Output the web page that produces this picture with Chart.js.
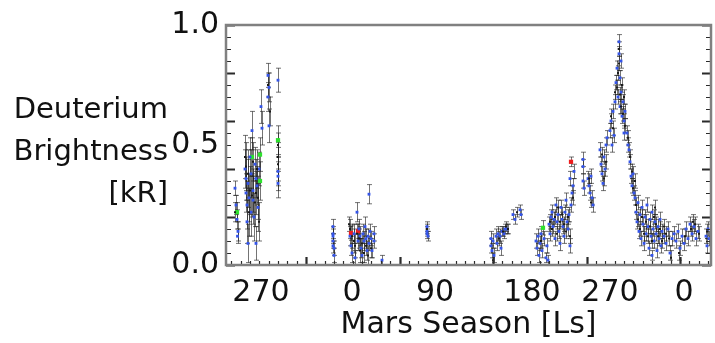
<!DOCTYPE html>
<html>
<head>
<meta charset="utf-8">
<script src="https://cdn.jsdelivr.net/npm/chart.js@4.4.1/dist/chart.umd.min.js"></script>
<style>
  html, body { margin: 0; padding: 0; background: #fff; }
  #wrap { width: 715px; height: 343px; }
</style>
</head>
<body>
<div id="wrap"><canvas id="chart" width="715" height="343"></canvas></div>
<script>
// x = days since start of the record, y = deuterium brightness (kR)
// each point: [day, kR, 1-sigma error]

// ------- axis ticks -------
const lsTickDays = [70, 252, 418, 612, 768, 916];
const lsTickText = ['270', '0', '90', '180', '270', '0'];
const xMajorDays = [160, 347, 534, 721, 908];
const yTickVals  = [0, 0.5, 1.0];

// ------- observations -------
const greenPts = [
  [22, 0.22, 0.04], [52, 0.45, 0.08], [68, 0.46, 0.07], [68, 0.35, 0.08], [104, 0.52, 0.06],
  [634, 0.155, 0.03],
];
const redPts = [
  [250, 0.133, 0.03], [264, 0.141, 0.03], [690, 0.43, 0.02],
];
const blackPts = [
  [18, 0.22, 0.04], [38, 0.45, 0.09], [40, 0.41, 0.1], [44, 0.38, 0.1], [46, 0.22, 0.1], [48, 0.31, 0.1],
  [52, 0.29, 0.09], [54, 0.43, 0.08], [58, 0.26, 0.1], [60, 0.30, 0.09], [62, 0.40, 0.08], [64, 0.28, 0.09],
  [66, 0.18, 0.08], [84, 0.75, 0.05], [88, 0.64, 0.06], [104, 0.50, 0.05], [104, 0.45, 0.06], [104, 0.42, 0.07],
  [246, 0.17, 0.03], [248, 0.15, 0.04], [252, 0.12, 0.05], [256, 0.10, 0.05], [258, 0.08, 0.05], [262, 0.13, 0.04],
  [266, 0.11, 0.04], [268, 0.06, 0.05], [272, 0.09, 0.04], [276, 0.05, 0.04], [280, 0.08, 0.04], [284, 0.04, 0.04],
  [290, 0.07, 0.04], [402, 0.15, 0.02],
  [534, 0.02, 0.03], [546, 0.11, 0.03], [554, 0.14, 0.02], [560, 0.16, 0.02], [564, 0.15, 0.02], [582, 0.22, 0.02],
  [630, 0.10, 0.03], [648, 0.18, 0.03], [652, 0.15, 0.03], [658, 0.20, 0.03], [662, 0.13, 0.03], [664, 0.24, 0.03],
  [668, 0.18, 0.03], [672, 0.21, 0.03], [676, 0.17, 0.03], [680, 0.14, 0.03], [684, 0.20, 0.03], [688, 0.12, 0.03],
  [694, 0.28, 0.03], [726, 0.36, 0.02], [730, 0.26, 0.02], [752, 0.46, 0.03], [756, 0.36, 0.03], [760, 0.43, 0.03],
  [770, 0.62, 0.03], [774, 0.57, 0.03], [778, 0.72, 0.03], [782, 0.74, 0.03], [784, 0.80, 0.03], [786, 0.90, 0.03],
  [788, 0.71, 0.03], [790, 0.66, 0.03], [792, 0.75, 0.03], [794, 0.63, 0.03], [796, 0.70, 0.03], [798, 0.58, 0.03],
  [786, 0.84, 0.03], [804, 0.53, 0.03], [808, 0.45, 0.03], [812, 0.39, 0.03], [814, 0.32, 0.03], [818, 0.35, 0.03],
  [820, 0.25, 0.03], [824, 0.19, 0.03], [828, 0.15, 0.03], [832, 0.20, 0.03], [836, 0.13, 0.03], [840, 0.18, 0.03],
  [844, 0.12, 0.03], [848, 0.16, 0.03], [852, 0.10, 0.03], [856, 0.20, 0.03], [858, 0.24, 0.03], [860, 0.17, 0.03],
  [864, 0.12, 0.03], [868, 0.15, 0.03], [872, 0.10, 0.03], [876, 0.16, 0.03], [880, 0.13, 0.03], [886, 0.11, 0.03],
  [890, 0.03, 0.03], [906, 0.05, 0.03], [918, 0.12, 0.03], [930, 0.15, 0.03], [934, 0.18, 0.03], [938, 0.17, 0.03],
  [946, 0.13, 0.03], [962, 0.14, 0.03],
];
const bluePts = [
  [18, 0.32, 0.03], [20, 0.25, 0.04], [22, 0.19, 0.04], [24, 0.14, 0.04], [23, 0.12, 0.03], [38, 0.40, 0.08],
  [40, 0.36, 0.09], [40, 0.30, 0.08], [42, 0.25, 0.1], [42, 0.18, 0.09], [44, 0.09, 0.08], [44, 0.34, 0.1],
  [46, 0.28, 0.1], [48, 0.45, 0.08], [50, 0.38, 0.1], [50, 0.22, 0.1], [52, 0.56, 0.08], [54, 0.31, 0.09],
  [54, 0.27, 0.1], [56, 0.20, 0.1], [58, 0.42, 0.07], [60, 0.36, 0.08], [62, 0.33, 0.08], [64, 0.24, 0.1],
  [60, 0.09, 0.07], [66, 0.40, 0.07], [70, 0.66, 0.07], [72, 0.57, 0.07], [84, 0.79, 0.05], [86, 0.74, 0.06],
  [84, 0.70, 0.06], [86, 0.58, 0.07], [104, 0.77, 0.05], [104, 0.39, 0.06], [104, 0.34, 0.06], [104, 0.37, 0.06],
  [214, 0.16, 0.03], [214, 0.13, 0.03], [214, 0.12, 0.03], [214, 0.08, 0.03], [216, 0.07, 0.03], [216, 0.04, 0.03],
  [214, 0.10, 0.03],
  [248, 0.12, 0.04], [250, 0.08, 0.04], [252, 0.05, 0.04], [256, 0.13, 0.04], [258, 0.03, 0.03], [262, 0.22, 0.04],
  [264, 0.10, 0.04], [266, 0.15, 0.04], [268, 0.12, 0.04], [270, 0.07, 0.04], [272, 0.04, 0.03], [274, 0.13, 0.04],
  [276, 0.10, 0.04], [278, 0.16, 0.04], [280, 0.11, 0.04], [282, 0.06, 0.04], [284, 0.12, 0.03], [286, 0.09, 0.03],
  [288, 0.14, 0.03], [290, 0.11, 0.03], [292, 0.06, 0.03], [286, 0.295, 0.04], [312, 0.02, 0.02], [296, 0.10, 0.03],
  [296, 0.13, 0.03],
  [402, 0.16, 0.02], [402, 0.14, 0.02], [404, 0.12, 0.02], [402, 0.13, 0.02],
  [530, 0.11, 0.03], [530, 0.08, 0.03], [532, 0.06, 0.03], [534, 0.10, 0.03], [536, 0.04, 0.03], [540, 0.12, 0.03],
  [542, 0.09, 0.03], [544, 0.13, 0.03], [548, 0.12, 0.03], [550, 0.07, 0.03], [552, 0.14, 0.02], [556, 0.13, 0.02],
  [558, 0.15, 0.02], [562, 0.15, 0.02], [574, 0.21, 0.02], [578, 0.19, 0.02], [588, 0.23, 0.02], [590, 0.21, 0.02],
  [620, 0.10, 0.03], [622, 0.07, 0.03], [624, 0.12, 0.03], [626, 0.04, 0.03], [628, 0.09, 0.03], [630, 0.13, 0.03],
  [632, 0.06, 0.03], [636, 0.11, 0.03], [640, 0.03, 0.02], [642, 0.08, 0.03], [644, 0.02, 0.02], [646, 0.17, 0.03],
  [648, 0.13, 0.03], [650, 0.20, 0.03], [652, 0.22, 0.03], [654, 0.16, 0.03], [656, 0.19, 0.03], [658, 0.11, 0.03],
  [660, 0.25, 0.03], [662, 0.18, 0.03], [664, 0.21, 0.03], [666, 0.14, 0.03], [668, 0.09, 0.03], [670, 0.24, 0.03],
  [672, 0.19, 0.03], [674, 0.16, 0.03], [676, 0.12, 0.03], [678, 0.22, 0.03], [680, 0.27, 0.03], [682, 0.18, 0.03],
  [684, 0.15, 0.03], [686, 0.21, 0.03], [688, 0.08, 0.03], [690, 0.25, 0.03], [692, 0.30, 0.03], [694, 0.33, 0.03],
  [688, 0.36, 0.03], [696, 0.39, 0.03],
  [714, 0.44, 0.03], [714, 0.41, 0.03], [714, 0.35, 0.03], [716, 0.32, 0.03],
  [724, 0.36, 0.03], [726, 0.33, 0.03], [728, 0.30, 0.03], [730, 0.37, 0.03], [732, 0.28, 0.03], [734, 0.25, 0.03],
  [748, 0.48, 0.03], [750, 0.42, 0.03], [752, 0.38, 0.03], [754, 0.34, 0.03], [756, 0.45, 0.03], [758, 0.40, 0.03],
  [760, 0.50, 0.03], [762, 0.53, 0.03],
  [768, 0.56, 0.03], [770, 0.60, 0.03], [772, 0.50, 0.03], [774, 0.64, 0.03], [776, 0.54, 0.03], [778, 0.68, 0.03],
  [780, 0.76, 0.03], [782, 0.82, 0.03], [784, 0.70, 0.03], [786, 0.88, 0.03], [786, 0.93, 0.03], [788, 0.78, 0.03],
  [788, 0.66, 0.03], [790, 0.85, 0.03], [790, 0.72, 0.03], [792, 0.62, 0.03], [794, 0.68, 0.03], [796, 0.60, 0.03],
  [798, 0.64, 0.03], [796, 0.55, 0.03],
  [802, 0.55, 0.03], [804, 0.50, 0.03], [806, 0.48, 0.03], [808, 0.43, 0.03], [810, 0.37, 0.03], [812, 0.33, 0.03],
  [814, 0.38, 0.03], [816, 0.30, 0.03],
  [818, 0.28, 0.03], [820, 0.22, 0.03], [822, 0.18, 0.03], [824, 0.26, 0.03], [826, 0.14, 0.03], [828, 0.21, 0.03],
  [830, 0.11, 0.03], [832, 0.24, 0.03], [834, 0.17, 0.03], [836, 0.09, 0.03], [838, 0.20, 0.03], [840, 0.13, 0.03],
  [842, 0.25, 0.03], [844, 0.16, 0.03], [846, 0.07, 0.03], [848, 0.19, 0.03], [850, 0.12, 0.03], [852, 0.22, 0.03],
  [854, 0.15, 0.03], [856, 0.10, 0.03], [858, 0.18, 0.03], [860, 0.13, 0.03], [862, 0.06, 0.03], [864, 0.16, 0.03],
  [866, 0.11, 0.03], [868, 0.19, 0.03], [870, 0.08, 0.03], [872, 0.14, 0.03], [876, 0.12, 0.03], [880, 0.09, 0.03],
  [884, 0.15, 0.03], [888, 0.05, 0.03], [892, 0.11, 0.03], [896, 0.13, 0.03], [852, 0.04, 0.02],
  [900, 0.10, 0.03], [904, 0.14, 0.03], [908, 0.07, 0.03], [912, 0.12, 0.03], [916, 0.09, 0.03], [920, 0.15, 0.03],
  [924, 0.11, 0.03], [928, 0.17, 0.03], [932, 0.13, 0.03], [936, 0.16, 0.03], [940, 0.11, 0.03], [944, 0.14, 0.03],
  [960, 0.12, 0.03], [962, 0.08, 0.03], [964, 0.15, 0.03], [966, 0.11, 0.03],
];

const FONT = "'DejaVu Sans', sans-serif";
const INK = '#111';

function series(label, pts, color, radius) {
  return {
    label,
    data: pts.map(([x, y]) => ({ x, y })),
    errs: pts.map(p => p[2]),
    backgroundColor: color,
    borderWidth: 0,
    pointRadius: radius,
    pointStyle: 'rect',
  };
}

// vertical error bars with short caps, drawn under the markers
const errorBars = {
  id: 'errorBars',
  beforeDatasetsDraw(chart) {
    const { ctx, chartArea: a, scales: { x, y } } = chart;
    ctx.save();
    ctx.beginPath();
    ctx.rect(a.left, a.top, a.right - a.left, a.bottom - a.top);
    ctx.clip();
    ctx.strokeStyle = 'rgba(30,30,30,0.62)';
    ctx.lineWidth = 1;
    chart.data.datasets.forEach(ds => {
      ds.data.forEach((d, i) => {
        const e = ds.errs[i];
        const px = Math.round(x.getPixelForValue(d.x)) + 0.5;
        const y0 = y.getPixelForValue(d.y - e);
        const y1 = y.getPixelForValue(d.y + e);
        ctx.beginPath();
        ctx.moveTo(px, y0); ctx.lineTo(px, y1);
        ctx.moveTo(px - 2.5, y0); ctx.lineTo(px + 2.5, y0);
        ctx.moveTo(px - 2.5, y1); ctx.lineTo(px + 2.5, y1);
        ctx.stroke();
      });
    });
    ctx.restore();
  }
};

// gray frame with inward tick marks on left, right and bottom
const frame = {
  id: 'frame',
  afterDatasetsDraw(chart) {
    const { ctx, chartArea: a, scales: { x, y } } = chart;
    ctx.save();
    ctx.strokeStyle = '#2a2a2a';
    for (let k = 0; k <= 20; k++) {
      const v = k * 0.05;
      const py = Math.round(y.getPixelForValue(v)) + 0.5;
      const major = k % 4 === 0;
      ctx.lineWidth = major ? 2.2 : 1.2;
      const len = major ? 9 : 5;
      ctx.beginPath();
      ctx.moveTo(a.left, py); ctx.lineTo(a.left + len, py);
      ctx.moveTo(a.right, py); ctx.lineTo(a.right - len, py);
      ctx.stroke();
    }
    const step = (xMajorDays[1] - xMajorDays[0]) / 10;
    for (let k = -9; k <= 44; k++) {
      const v = xMajorDays[0] + k * step;
      if (v <= x.min || v >= x.max) continue;
      const px = Math.round(x.getPixelForValue(v)) + 0.5;
      const major = k % 10 === 0;
      ctx.lineWidth = major ? 2.2 : 1.2;
      ctx.beginPath();
      ctx.moveTo(px, a.bottom); ctx.lineTo(px, a.bottom - (major ? 8 : 4));
      ctx.stroke();
    }
    ctx.strokeStyle = '#808080';
    ctx.lineWidth = 2.5;
    ctx.strokeRect(a.left, a.top, a.right - a.left, a.bottom - a.top);
    ctx.restore();
  }
};

// horizontal, right-aligned y-axis title
const yTitle = {
  id: 'yTitle',
  afterDraw(chart) {
    const { ctx } = chart;
    ctx.save();
    ctx.fillStyle = INK;
    ctx.font = `29px ${FONT}`;
    ctx.textAlign = 'right';
    ctx.textBaseline = 'alphabetic';
    ['Deuterium', 'Brightness', '[kR]'].forEach((t, i) => ctx.fillText(t, 168, 118 + i * 42));
    ctx.restore();
  }
};

new Chart(document.getElementById('chart'), {
  type: 'scatter',
  data: {
    datasets: [
      series('black', blackPts, '#1b1b1b', 1.4),
      series('blue', bluePts, '#3454e8', 2),
      series('green', greenPts, '#2ee22e', 3),
      series('red', redPts, '#ee1c1c', 3),
    ]
  },
  options: {
    responsive: false,
    animation: false,
    devicePixelRatio: 1,
    layout: { padding: { top: 24, right: 4, left: 0, bottom: 0 } },
    plugins: { legend: { display: false }, tooltip: { enabled: false } },
    scales: {
      x: {
        type: 'linear', min: 0, max: 970,
        grid: { display: false, drawTicks: false },
        border: { display: false },
        afterBuildTicks: s => { s.ticks = lsTickDays.map(v => ({ value: v })); },
        afterFit: s => { s.height = 78; },
        ticks: {
          autoSkip: false, maxRotation: 0, padding: 10, color: INK,
          font: { family: FONT, size: 30 },
          callback: (v, i) => lsTickText[i],
        },
        title: {
          display: true, text: 'Mars Season [Ls]', color: INK,
          font: { family: FONT, size: 30 }, padding: { top: 0, bottom: 0 },
        },
      },
      y: {
        min: 0, max: 1,
        grid: { display: false, drawTicks: false },
        border: { display: false },
        afterBuildTicks: s => { s.ticks = yTickVals.map(v => ({ value: v })); },
        afterFit: s => { s.width = 226; },
        ticks: {
          padding: 7, color: INK,
          font: { family: FONT, size: 30 },
          callback: v => v.toFixed(1),
        },
      },
    },
  },
  plugins: [errorBars, frame, yTitle],
});
</script>
</body>
</html>
